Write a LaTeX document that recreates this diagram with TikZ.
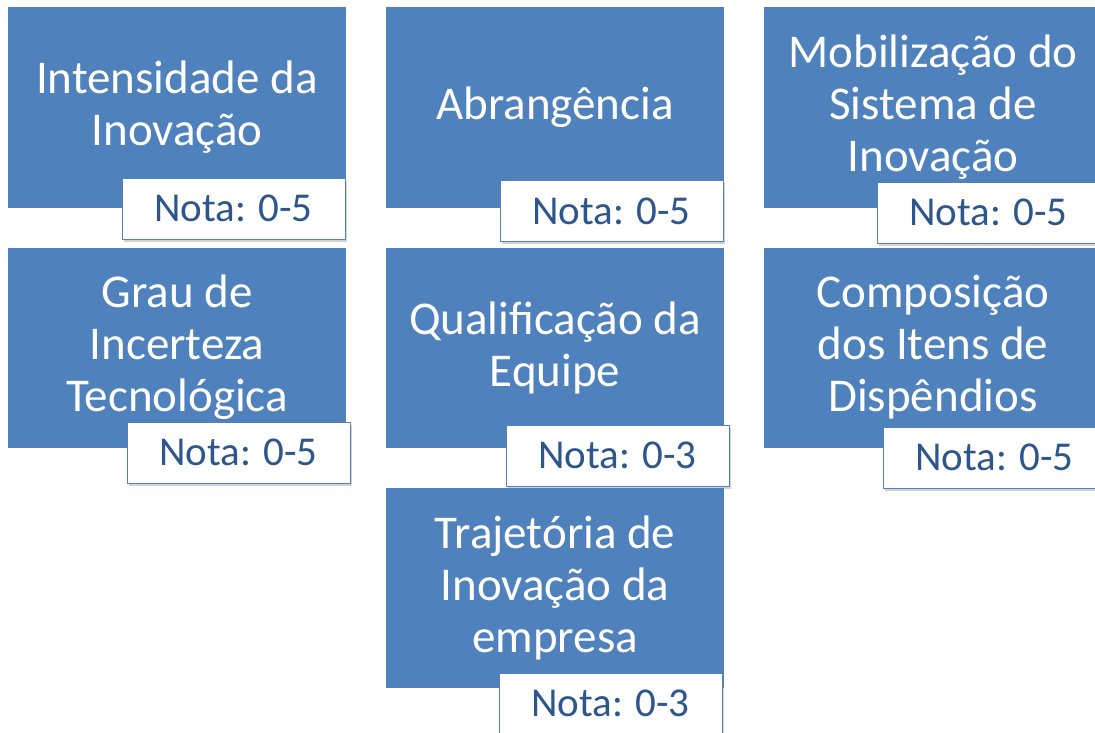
\documentclass[tikz,border=0pt]{standalone}
\usepackage{fontspec}
\setmainfont{Carlito}
\usepackage{tikz}
\usetikzlibrary{shadows}
\definecolor{critblue}{RGB}{79,129,189}
\definecolor{notaline}{RGB}{84,130,190}
\definecolor{notatext}{RGB}{44,86,140}

\begin{document}
\begin{tikzpicture}[x=1pt, y=-1pt,
	crit/.style={fill=critblue, text=white, align=center, inner sep=0pt,
	  minimum width=338pt, minimum height=200pt, font=\fontsize{47}{52}\selectfont},
	nota/.style={fill=white, draw=notaline, line width=1pt, text=notatext, inner sep=0pt,
	  minimum width=223pt, minimum height=61pt, font=\fontsize{41}{46}\selectfont,
	  drop shadow={shadow xshift=1.5pt, shadow yshift=-2.5pt, opacity=.35}}]
	\useasboundingbox[fill=white] (0,0) rectangle (1095,733);
	% first row
	\node[crit] (intens) at (177,107.5) {Intensidade da\\Inovação};
	\node[crit] (abrang) at (555,107.5) {Abrangência};
	\node[crit] (mobil) at (933,107.5) {Mobilização do\\Sistema de\\Inovação};
	\node[nota] (nintens) at (233.5,208.5) {Nota: 0-5};
	\node[nota] (nabrang) at (611.5,211) {Nota: 0-5};
	\node[nota] (nmobil) at (988.5,212.5) {Nota: 0-5};
	% second row
	\node[crit] (grau) at (177,347.5) {Grau de\\Incerteza\\Tecnológica};
	\node[crit] (qualif) at (555,347.5) {Qualificação da\\Equipe};
	\node[crit] (compos) at (933,347.5) {Composição\\dos Itens de\\Dispêndios};
	\node[nota] (ngrau) at (238.5,452.5) {Nota: 0-5};
	\node[nota] (nqualif) at (617.5,455.5) {Nota: 0-3};
	\node[nota] (ncompos) at (994.5,457.5) {Nota: 0-5};
	% third row
	\node[crit] (traj) at (555,588) {Trajetória de\\Inovação da\\empresa};
	\node[nota] (ntraj) at (610.5,703.5) {Nota: 0-3};
\end{tikzpicture}
\end{document}
